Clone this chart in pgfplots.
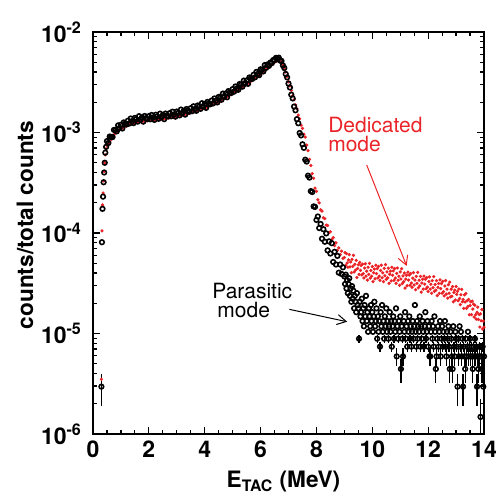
\documentclass[border=0pt]{standalone}
\usepackage{fontspec}
\setmainfont{TeX Gyre Heros}
\usepackage{pgfplots}
\usepackage{pgfplotstable}
\pgfplotsset{compat=1.18}
\usetikzlibrary{arrows.meta}
\definecolor{dedred}{RGB}{234,36,40}
\pgfplotstableread{
x r b e
0.30 3.5e-6 2.96e-6 1.04e-6
0.32 1.05e-4 8.1e-5 0
0.34 1.9e-4 1.74e-4 0
0.36 2.5e-4 2.3e-4 0
0.38 3.3e-4 3.2e-4 0
0.40 4.1e-4 4.0e-4 0
0.42 5.0e-4 5.0e-4 0
0.44 6.0e-4 6.3e-4 0
0.47 6.9e-4 7.2e-4 0
0.50 0.743e-3 0.822e-3 0
0.55 0.771e-3 0.787e-3 0
0.60 0.808e-3 0.912e-3 0
0.65 0.855e-3 0.901e-3 0
0.70 0.902e-3 0.902e-3 0
0.75 0.949e-3 1.061e-3 0
0.80 0.987e-3 1.061e-3 0
0.85 1.015e-3 1.026e-3 0
0.90 1.034e-3 1.177e-3 0
0.95 1.062e-3 1.107e-3 0
1.00 1.090e-3 1.195e-3 0
1.05 1.109e-3 1.097e-3 0
1.10 1.128e-3 1.260e-3 0
1.15 1.147e-3 1.220e-3 0
1.20 1.166e-3 1.203e-3 0
1.25 1.184e-3 1.310e-3 0
1.30 1.203e-3 1.229e-3 0
1.35 1.222e-3 1.378e-3 0
1.40 1.231e-3 1.297e-3 0
1.45 1.241e-3 1.241e-3 0
1.50 1.250e-3 1.397e-3 0
1.55 1.260e-3 1.353e-3 0
1.60 1.269e-3 1.283e-3 0
1.65 1.278e-3 1.455e-3 0
1.70 1.288e-3 1.343e-3 0
1.75 1.288e-3 1.411e-3 0
1.80 1.297e-3 1.283e-3 0
1.85 1.307e-3 1.460e-3 0
1.90 1.307e-3 1.390e-3 0
1.95 1.316e-3 1.358e-3 0
2.00 1.316e-3 1.456e-3 0
2.05 1.325e-3 1.354e-3 0
2.10 1.325e-3 1.495e-3 0
2.15 1.335e-3 1.406e-3 0
2.20 1.335e-3 1.335e-3 0
2.25 1.344e-3 1.502e-3 0
2.30 1.344e-3 1.444e-3 0
2.35 1.354e-3 1.368e-3 0
2.40 1.354e-3 1.541e-3 0
2.45 1.363e-3 1.421e-3 0
2.50 1.363e-3 1.494e-3 0
2.55 1.372e-3 1.358e-3 0
2.60 1.382e-3 1.544e-3 0
2.65 1.391e-3 1.480e-3 0
2.70 1.401e-3 1.445e-3 0
2.75 1.410e-3 1.560e-3 0
2.80 1.419e-3 1.450e-3 0
2.85 1.429e-3 1.611e-3 0
2.90 1.429e-3 1.505e-3 0
2.95 1.438e-3 1.438e-3 0
3.00 1.448e-3 1.617e-3 0
3.05 1.457e-3 1.566e-3 0
3.10 1.466e-3 1.482e-3 0
3.15 1.485e-3 1.691e-3 0
3.20 1.495e-3 1.558e-3 0
3.25 1.504e-3 1.648e-3 0
3.30 1.523e-3 1.507e-3 0
3.35 1.532e-3 1.712e-3 0
3.40 1.551e-3 1.650e-3 0
3.45 1.560e-3 1.610e-3 0
3.50 1.579e-3 1.747e-3 0
3.55 1.598e-3 1.632e-3 0
3.60 1.617e-3 1.823e-3 0
3.65 1.626e-3 1.713e-3 0
3.70 1.645e-3 1.645e-3 0
3.75 1.664e-3 1.859e-3 0
3.80 1.683e-3 1.808e-3 0
3.85 1.701e-3 1.720e-3 0
3.90 1.720e-3 1.958e-3 0
3.95 1.739e-3 1.813e-3 0
4.00 1.758e-3 1.926e-3 0
4.05 1.777e-3 1.758e-3 0
4.10 1.805e-3 2.016e-3 0
4.15 1.833e-3 1.950e-3 0
4.20 1.852e-3 1.911e-3 0
4.25 1.880e-3 2.080e-3 0
4.30 1.908e-3 1.949e-3 0
4.35 1.936e-3 2.184e-3 0
4.40 1.965e-3 2.069e-3 0
4.45 1.993e-3 1.993e-3 0
4.50 2.021e-3 2.258e-3 0
4.55 2.059e-3 2.212e-3 0
4.60 2.096e-3 2.119e-3 0
4.65 2.143e-3 2.440e-3 0
4.70 2.181e-3 2.274e-3 0
4.75 2.228e-3 2.441e-3 0
4.80 2.265e-3 2.241e-3 0
4.85 2.312e-3 2.583e-3 0
4.90 2.359e-3 2.510e-3 0
4.95 2.397e-3 2.474e-3 0
5.00 2.444e-3 2.704e-3 0
5.05 2.500e-3 2.554e-3 0
5.10 2.547e-3 2.873e-3 0
5.15 2.604e-3 2.742e-3 0
5.20 2.660e-3 2.660e-3 0
5.25 2.717e-3 3.035e-3 0
5.30 2.773e-3 2.980e-3 0
5.35 2.829e-3 2.860e-3 0
5.40 2.886e-3 3.285e-3 0
5.45 2.952e-3 3.077e-3 0
5.50 3.008e-3 3.296e-3 0
5.55 3.083e-3 3.050e-3 0
5.60 3.158e-3 3.528e-3 0
5.65 3.234e-3 3.440e-3 0
5.70 3.309e-3 3.414e-3 0
5.75 3.393e-3 3.754e-3 0
5.80 3.469e-3 3.542e-3 0
5.85 3.553e-3 4.007e-3 0
5.90 3.638e-3 3.831e-3 0
5.95 3.722e-3 3.722e-3 0
6.00 3.807e-3 4.253e-3 0
6.05 3.910e-3 4.202e-3 0
6.10 4.014e-3 4.057e-3 0
6.15 4.117e-3 4.687e-3 0
6.20 4.230e-3 4.410e-3 0
6.25 4.343e-3 4.759e-3 0
6.30 4.465e-3 4.608e-3 0
6.35 4.578e-3 4.967e-3 0
6.40 4.700e-3 4.900e-3 0
6.45 4.841e-3 5.253e-3 0
6.50 4.982e-3 5.247e-3 0
6.55 5.095e-3 5.528e-3 0
6.60 5.170e-3 5.445e-3 0
6.65 5.170e-3 5.555e-3 0
6.70 5.250e-3 5.194e-3 0
6.75 5.000e-3 5.151e-3 0
6.80 4.720e-3 4.653e-3 0
6.85 4.380e-3 4.386e-3 0
6.90 4.000e-3 3.822e-3 0
6.95 3.600e-3 3.535e-3 0
7.00 3.200e-3 3.069e-3 0
7.05 2.90e-3 2.805e-3 0
7.10 2.62e-3 2.377e-3 0
7.15 2.33e-3 2.184e-3 0
7.20 2.12e-3 1.813e-3 0
7.25 1.88e-3 1.664e-3 0
7.30 1.72e-3 1.358e-3 0
7.35 1.49e-3 1.236e-3 0
7.40 1.37e-3 0.989e-3 0
7.45 1.18e-3 0.936e-3 0
7.50 1.10e-3 0.764e-3 0
7.55 0.96e-3 0.704e-3 0
7.60 0.90e-3 0.536e-3 0
7.65 0.75e-3 0.514e-3 0
7.70 0.66e-3 0.372e-3 0
7.75 0.54e-3 0.356e-3 0
7.80 0.47e-3 0.261e-3 0
7.85 0.39e-3 0.256e-3 0
7.90 0.35e-3 0.184e-3 0
7.95 0.28e-3 0.182e-3 0
8.00 0.26e-3 0.135e-3 0
8.05 0.214e-3 0.146e-3 0
8.10 0.200e-3 0.112e-3 0
8.15 0.170e-3 0.123e-3 0
8.20 0.165e-3 0.0877e-3 0
8.25 0.142e-3 0.109e-3 0
8.30 0.139e-3 0.0819e-3 0
8.35 0.120e-3 0.0991e-3 0
8.40 0.119e-3 0.0672e-3 0
8.45 0.101e-3 0.0825e-3 0
8.50 0.103e-3 0.0625e-3 0
8.55 0.086e-3 0.0792e-3 0
8.60 0.090e-3 0.0515e-3 0
8.65 0.075e-3 0.0650e-3 0
8.70 0.080e-3 0.0486e-3 0
8.75 0.067e-3 0.0592e-3 0
8.80 0.071e-3 0.0403e-3 0
8.85 0.061e-3 0.0486e-3 0
8.90 0.066e-3 0.0391e-3 0
8.95 0.056e-3 0.0456e-3 0
9.000 5.70e-5 3.70e-5 0
9.025 6.38e-5 3.11e-5 0
9.050 4.77e-5 3.85e-5 0
9.075 6.25e-5 2.81e-5 0
9.100 5.04e-5 3.40e-5 0
9.125 4.56e-5 2.52e-5 0
9.150 5.40e-5 3.11e-5 0
9.175 6.10e-5 3.55e-5 0
9.200 4.60e-5 2.37e-5 0
9.225 5.15e-5 2.81e-5 0
9.250 4.03e-5 2.07e-5 0
9.275 5.47e-5 2.96e-5 0
9.300 4.66e-5 2.22e-5 0
9.325 6.00e-5 2.66e-5 0
9.350 4.09e-5 1.78e-5 0
9.375 4.88e-5 2.37e-5 0
9.400 4.28e-5 2.07e-5 0
9.425 5.34e-5 1.63e-5 0
9.450 3.61e-5 2.52e-5 0
9.475 4.44e-5 1.92e-5 0
9.500 4.84e-5 1.78e-5 0
9.525 3.87e-5 8.88e-6 8e-7
9.550 5.10e-5 2.07e-5 0
9.575 4.25e-5 1.48e-5 0
9.600 4.76e-5 1.63e-5 0
9.625 3.83e-5 2.22e-5 0
9.650 4.90e-5 1.33e-5 0
9.675 3.94e-5 1.78e-5 0
9.700 3.57e-5 1.18e-5 0
9.725 4.48e-5 1.92e-5 0
9.750 4.94e-5 1.48e-5 0
9.775 3.73e-5 2.37e-5 0
9.800 4.17e-5 1.33e-5 0
9.825 3.40e-5 1.63e-5 0
9.850 4.56e-5 1.04e-5 0
9.875 3.88e-5 1.78e-5 0
9.900 5.00e-5 1.48e-5 0
9.925 3.56e-5 1.18e-5 0
9.950 4.24e-5 1.92e-5 0
9.975 3.72e-5 1.33e-5 0
10.000 4.64e-5 1.63e-5 0
10.025 3.28e-5 1.04e-5 0
10.050 4.02e-5 1.48e-5 0
10.075 4.38e-5 2.07e-5 0
10.100 3.50e-5 1.18e-5 0
10.125 4.78e-5 1.33e-5 0
10.150 3.95e-5 1.78e-5 0
10.175 4.42e-5 8.88e-6 8e-7
10.200 3.56e-5 1.48e-5 0
10.225 4.66e-5 1.04e-5 0
10.250 3.73e-5 1.33e-5 0
10.275 3.38e-5 7.40e-6 9e-7
10.300 4.24e-5 1.63e-5 0
10.325 4.79e-5 1.18e-5 0
10.350 3.59e-5 1.92e-5 0
10.375 4.02e-5 1.04e-5 0
10.400 3.28e-5 1.33e-5 0
10.425 4.45e-5 8.88e-6 8e-7
10.450 3.76e-5 1.48e-5 0
10.475 4.85e-5 1.18e-5 0
10.500 3.45e-5 1.78e-5 0
10.525 4.11e-5 1.04e-5 0
10.550 3.58e-5 1.33e-5 0
10.575 4.47e-5 8.88e-6 8e-7
10.600 3.16e-5 1.18e-5 0
10.625 3.89e-5 1.63e-5 0
10.650 4.18e-5 1.04e-5 0
10.675 3.34e-5 1.33e-5 0
10.700 4.56e-5 7.40e-6 9e-7
10.725 3.80e-5 1.18e-5 0
10.750 4.20e-5 1.48e-5 0
10.775 3.38e-5 8.88e-6 8e-7
10.800 4.43e-5 1.33e-5 0
10.825 3.56e-5 1.04e-5 0
10.850 3.16e-5 1.78e-5 0
10.875 3.97e-5 5.92e-6 1.2e-6
10.900 4.49e-5 1.18e-5 0
10.925 3.39e-5 8.88e-6 8e-7
10.950 3.71e-5 1.33e-5 0
10.975 3.02e-5 1.04e-5 0
11.000 4.10e-5 1.48e-5 0
11.025 3.49e-5 4.44e-6 1.2e-6
11.050 4.41e-5 1.18e-5 0
11.075 3.14e-5 8.88e-6 8e-7
11.100 3.74e-5 5.92e-6 1.2e-6
11.125 3.28e-5 1.33e-5 0
11.150 4.00e-5 1.04e-5 0
11.175 2.83e-5 1.63e-5 0
11.200 3.48e-5 8.88e-6 8e-7
11.225 3.80e-5 1.18e-5 0
11.250 2.99e-5 7.40e-6 9e-7
11.275 4.08e-5 1.33e-5 0
11.300 3.40e-5 1.04e-5 0
11.325 3.81e-5 1.48e-5 0
11.350 3.02e-5 8.88e-6 8e-7
11.375 3.95e-5 1.18e-5 0
11.400 3.18e-5 7.40e-6 9e-7
11.425 2.88e-5 1.04e-5 0
11.450 3.56e-5 1.33e-5 0
11.475 4.03e-5 8.88e-6 8e-7
11.500 3.04e-5 1.18e-5 0
11.525 3.40e-5 1.92e-5 0
11.550 2.73e-5 1.04e-5 0
11.575 3.71e-5 7.40e-6 9e-7
11.600 3.15e-5 1.33e-5 0
11.625 4.06e-5 8.88e-6 8e-7
11.650 2.85e-5 1.18e-5 0
11.675 3.39e-5 1.04e-5 0
11.700 2.98e-5 1.48e-5 0
11.725 3.71e-5 7.40e-6 9e-7
11.750 2.58e-5 1.18e-5 0
11.775 3.18e-5 8.88e-6 8e-7
11.800 3.47e-5 1.33e-5 0
11.825 2.77e-5 1.04e-5 0
11.850 3.72e-5 7.40e-6 9e-7
11.875 3.10e-5 1.18e-5 0
11.900 3.47e-5 1.63e-5 0
11.925 2.79e-5 8.88e-6 8e-7
11.950 3.60e-5 1.04e-5 0
11.975 2.90e-5 1.33e-5 0
12.000 2.62e-5 7.40e-6 9e-7
12.025 3.29e-5 1.18e-5 0
12.050 3.66e-5 5.92e-6 1.2e-6
12.075 2.76e-5 5.92e-6 1.2e-6
12.100 3.09e-5 1.04e-5 0
12.125 2.52e-5 1.33e-5 0
12.150 3.36e-5 8.88e-6 8e-7
12.175 2.86e-5 1.18e-5 0
12.200 3.69e-5 7.40e-6 9e-7
12.225 2.63e-5 1.48e-5 0
12.250 3.07e-5 1.04e-5 0
12.275 2.70e-5 4.44e-6 1.2e-6
12.300 3.36e-5 5.92e-6 1.2e-6
12.325 2.38e-5 8.88e-6 8e-7
12.350 2.88e-5 1.18e-5 0
12.375 3.14e-5 7.40e-6 9e-7
12.400 2.51e-5 1.04e-5 0
12.425 3.42e-5 1.33e-5 0
12.450 2.80e-5 5.92e-6 1.2e-6
12.475 3.14e-5 8.88e-6 8e-7
12.500 2.52e-5 1.18e-5 0
12.525 3.30e-5 7.40e-6 9e-7
12.550 2.61e-5 1.04e-5 0
12.575 2.37e-5 8.88e-6 8e-7
12.600 2.97e-5 1.33e-5 0
12.625 3.36e-5 7.40e-6 9e-7
12.650 2.47e-5 5.92e-6 1.2e-6
12.675 2.76e-5 1.04e-5 0
12.700 2.25e-5 8.88e-6 8e-7
12.725 3.06e-5 1.18e-5 0
12.750 2.52e-5 7.40e-6 9e-7
12.775 3.25e-5 4.44e-6 1.2e-6
12.800 2.31e-5 1.04e-5 0
12.825 2.76e-5 8.88e-6 8e-7
12.850 2.35e-5 5.92e-6 1.2e-6
12.875 2.93e-5 4.44e-6 1.2e-6
12.900 2.07e-5 1.18e-5 0
12.925 2.56e-5 7.40e-6 9e-7
12.950 2.70e-5 5.92e-6 1.2e-6
12.975 2.16e-5 1.04e-5 0
13.000 2.94e-5 8.88e-6 8e-7
13.025 2.45e-5 7.40e-6 9e-7
13.050 2.63e-5 2.96e-6 1.04e-6
13.075 2.12e-5 8.88e-6 8e-7
13.100 2.77e-5 5.92e-6 1.2e-6
13.125 2.23e-5 1.18e-5 0
13.150 1.94e-5 7.40e-6 9e-7
13.175 2.43e-5 1.04e-5 0
13.200 2.75e-5 5.92e-6 1.2e-6
13.225 2.07e-5 8.88e-6 8e-7
13.250 2.18e-5 2.96e-6 1.04e-6
13.275 1.78e-5 7.40e-6 9e-7
13.300 2.42e-5 5.92e-6 1.2e-6
13.325 2.06e-5 4.44e-6 1.2e-6
13.350 2.50e-5 8.88e-6 8e-7
13.375 1.78e-5 5.92e-6 1.2e-6
13.400 2.12e-5 7.40e-6 9e-7
13.425 1.86e-5 1.04e-5 0
13.450 2.18e-5 5.92e-6 1.2e-6
13.475 1.54e-5 7.40e-6 9e-7
13.500 1.90e-5 8.88e-6 8e-7
13.525 2.07e-5 5.92e-6 1.2e-6
13.550 1.54e-5 7.40e-6 9e-7
13.575 2.10e-5 5.92e-6 1.2e-6
13.600 1.75e-5 4.44e-6 1.2e-6
13.625 1.96e-5 7.40e-6 9e-7
13.650 1.46e-5 5.92e-6 1.2e-6
13.675 1.91e-5 8.88e-6 8e-7
13.700 1.54e-5 5.92e-6 1.2e-6
13.725 1.39e-5 7.40e-6 9e-7
13.750 1.62e-5 2.96e-6 1.04e-6
13.775 1.83e-5 5.92e-6 1.2e-6
13.800 1.38e-5 4.44e-6 1.2e-6
13.825 1.55e-5 7.40e-6 9e-7
13.850 1.16e-5 5.92e-6 1.2e-6
13.875 1.57e-5 1.48e-6 7.4e-7
13.900 1.34e-5 5.92e-6 1.2e-6
13.925 1.73e-5 4.44e-6 1.2e-6
13.950 1.11e-5 7.40e-6 9e-7
13.975 1.33e-5 2.96e-6 1.04e-6
14.000 1.16e-5 5.92e-6 1.2e-6
}\data
\begin{document}
\begin{tikzpicture}
\begin{axis}[
  scale only axis, width=195.5pt, height=201pt,
  xmin=0, xmax=14, ymin=1e-6, ymax=1e-2, ymode=log,
  xtick={0,2,4,6,8,10,12,14},
  xticklabels={0,2,4,6,8,10,12,14},
  minor x tick num=3,
  ytick={1e-6,1e-5,1e-4,1e-3,1e-2},
  yticklabels={10\textsuperscript{-6},10\textsuperscript{-5},10\textsuperscript{-4},10\textsuperscript{-3},10\textsuperscript{-2}},
  minor ytick={2e-6,3e-6,4e-6,5e-6,6e-6,7e-6,8e-6,9e-6,2e-5,3e-5,4e-5,5e-5,6e-5,7e-5,8e-5,9e-5,2e-4,3e-4,4e-4,5e-4,6e-4,7e-4,8e-4,9e-4,2e-3,3e-3,4e-3,5e-3,6e-3,7e-3,8e-3,9e-3},
  tick label style={font=\fontsize{11.5}{13}\selectfont\bfseries},
  yticklabel style={xshift=-2pt},
  major tick length=3.5pt, minor tick length=2pt,
  axis line style={line width=0.9pt},
  tick style={black, line width=0.6pt},
  xlabel={E\textsubscript{TAC} (MeV)},
  ylabel={counts/total counts},
  every axis x label/.style={at={(axis description cs:0.487,-0.132)}, anchor=base, font=\fontsize{11.3}{13}\selectfont\bfseries},
  every axis y label/.style={at={(axis description cs:-0.174,0.52)}, anchor=center, rotate=90, font=\fontsize{11.3}{13}\selectfont\bfseries},
]
\addplot[only marks, mark=*, mark size=0.6pt, color=dedred] table[x=x,y=r] {\data};
\addplot[only marks, mark=o, mark size=1.15pt, black, mark options={line width=0.8pt},
  error bars/.cd, y dir=both, y explicit, error mark=none, error bar style={line width=0.6pt}]
  table[x=x,y=b,y error=e] {\data};
\node[anchor=base west, inner sep=0, text=dedred, font=\fontsize{10.5}{12}\selectfont] at (axis cs:8.41,1.01e-3) {Dedicated};
\node[anchor=base west, inner sep=0, text=dedred, font=\fontsize{10.5}{12}\selectfont] at (axis cs:8.41,6.40e-4) {mode};
\node[anchor=base west, inner sep=0, font=\fontsize{10.5}{12}\selectfont] at (axis cs:4.26,2.25e-5) {Parasitic};
\node[anchor=base west, inner sep=0, font=\fontsize{10.5}{12}\selectfont] at (axis cs:4.44,1.43e-5) {mode};
\draw[dedred, line width=0.5pt, -{Straight Barb[length=4.5pt,width=5pt]}] (axis cs:9.80,4.75e-4) -- (axis cs:11.23,4.7e-5);
\draw[black, line width=0.5pt, -{Straight Barb[length=4.5pt,width=5pt]}] (axis cs:7.03,1.74e-5) -- (axis cs:9.10,1.31e-5);
\end{axis}
\pgfresetboundingbox
\path[use as bounding box] (-46.5pt,-29.5pt) rectangle (201.5pt,217pt);
\end{tikzpicture}
\end{document}
